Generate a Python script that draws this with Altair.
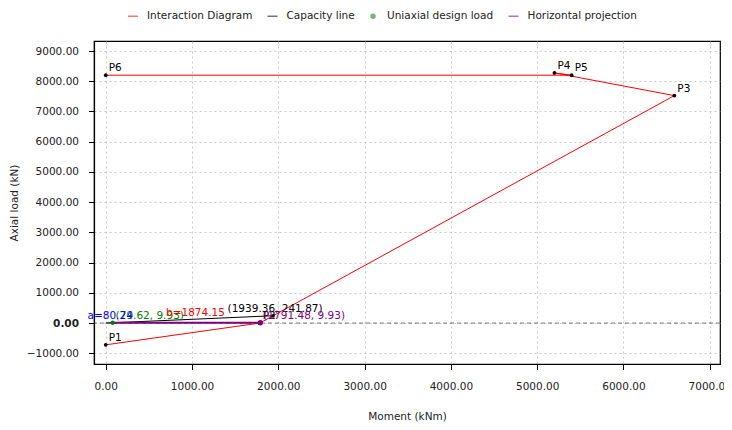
import altair as alt
import pandas as pd

# ---- data ----
series_names = ["Interaction Diagram", "Capacity line", "Uniaxial design load", "Horizontal projection"]
series_colors = ["red", "black", "green", "purple"]

p_names = ["P1", "P2", "P3", "P4", "P5", "P6"]
p_moment = [0, 1785, 6590, 5200, 5400, 0]
p_axial = [-720, 0, 7525, 8275, 8200, 8200]

cap_moment = [0, 1939.36]
cap_axial = [0, 241.87]

design_moment = [79.62]
design_axial = [9.93]

proj_moment = [79.62, 1791.48]
proj_axial = [9.93, 9.93]

a_value = 80.24
b_value = 1874.15

x_ticks = [0, 1000, 2000, 3000, 4000, 5000, 6000, 7000]
y_ticks = [-1000, 0, 1000, 2000, 3000, 4000, 5000, 6000, 7000, 8000, 9000]

FONT = "DejaVu Sans"

# ---- tables ----
inter_df = pd.DataFrame({"m": p_moment, "n": p_axial, "name": p_names,
                         "series": series_names[0], "o": list(range(len(p_names)))})
cap_df = pd.DataFrame({"m": cap_moment, "n": cap_axial, "series": series_names[1], "o": [0, 1]})
design_df = pd.DataFrame({"m": design_moment, "n": design_axial, "series": series_names[2],
                          "lab": [f"({design_moment[0]:.2f}, {design_axial[0]:.2f})"]})
proj_df = pd.DataFrame({"m": proj_moment, "n": proj_axial, "series": series_names[3], "o": [0, 1]})
proj_end_df = pd.DataFrame({"m": [proj_moment[1]], "n": [proj_axial[1]],
                            "lab": [f"({proj_moment[1]:.2f}, {proj_axial[1]:.2f})"]})
cap_end_df = pd.DataFrame({"m": [cap_moment[1]], "n": [cap_axial[1]],
                           "lab": [f"({cap_moment[1]:.2f}, {cap_axial[1]:.2f})"]})
a_df = pd.DataFrame({"m": [design_moment[0] / 2], "n": [0.0], "lab": [f"a={a_value:.2f}"]})
b_df = pd.DataFrame({"m": [(design_moment[0] + cap_moment[1]) / 2 + 30],
                     "n": [0.0], "lab": [f"b={b_value:.2f}"]})
zero_df = pd.DataFrame({"n": [0]})

xscale = alt.Scale(domain=[-136, 7119], nice=False, zero=False)
yscale = alt.Scale(domain=[-1354, 9331], nice=False, zero=False)

xenc = alt.X("m:Q", scale=xscale, title="Moment (kNm)",
             axis=alt.Axis(values=x_ticks, format=".2f", titlePadding=19, labelOverlap=False))
yaxis = alt.Axis(values=y_ticks, format=".2f", labelOverlap=False,
                 titleX=-80, titleY=161.5, titleAngle=270, titleBaseline="middle",
                 titleAlign="center",
                 labelFontWeight={"condition": {"test": "datum.value == 0", "value": "bold"},
                                  "value": "normal"})
yenc = alt.Y("n:Q", scale=yscale, title="Axial load (kN)", axis=yaxis)

color_scale = alt.Scale(domain=series_names, range=series_colors)
dot_path = "M -0.4 0 A 0.4 0.4 0 1 1 0.4 0 A 0.4 0.4 0 1 1 -0.4 0 Z"
shape_scale = alt.Scale(domain=series_names, range=["stroke", "stroke", dot_path, "stroke"])

legend = alt.Legend(
    title=None, orient="none", direction="horizontal", legendX=33, legendY=-31,
    symbolSize=100, symbolStrokeWidth=1.5, symbolOpacity=0.55,
    labelFont=FONT, labelFontSize=10.5, labelColor="#222", labelOffset=8,
    columnPadding=11.5, padding=0,
)
color_enc = alt.Color("series:N", scale=color_scale, legend=legend)
shape_enc = alt.Shape("series:N", scale=shape_scale, legend=legend)

zero_line = alt.Chart(zero_df).mark_rule(color="#555", strokeWidth=0.8, strokeDash=[4, 3]).encode(
    y=yenc)

inter_line = alt.Chart(inter_df).mark_line(strokeWidth=1).encode(
    x=xenc, y=yenc, order="o:Q", color=color_enc)
cap_line = alt.Chart(cap_df).mark_line(strokeWidth=1).encode(
    x=xenc, y=yenc, order="o:Q", color=color_enc)
proj_line = alt.Chart(proj_df).mark_line(strokeWidth=1.8).encode(
    x=xenc, y=yenc, order="o:Q", color=color_enc)

p_dots = alt.Chart(inter_df).mark_circle(color="black", size=14, opacity=1).encode(x=xenc, y=yenc)
p_text = alt.Chart(inter_df).mark_text(align="left", baseline="middle", dx=3, dy=-7,
                                       font=FONT, fontSize=10.5, color="black").encode(
    x=xenc, y=yenc, text="name:N")

cap_dot = alt.Chart(cap_end_df).mark_circle(color="black", size=14, opacity=1).encode(x=xenc, y=yenc)
cap_text = alt.Chart(cap_end_df).mark_text(align="center", baseline="middle", dx=2, dy=-7,
                                           font=FONT, fontSize=10.5, color="black").encode(
    x=xenc, y=yenc, text="lab:N")

design_dot = alt.Chart(design_df).mark_point(filled=True, size=120, opacity=1).encode(
    x=xenc, y=yenc, color=color_enc, shape=shape_enc)
design_text = alt.Chart(design_df).mark_text(align="left", baseline="middle", dx=3, dy=-7,
                                             font=FONT, fontSize=10.5, color="green").encode(
    x=xenc, y=yenc, text="lab:N")

proj_dot = alt.Chart(proj_end_df).mark_circle(color="purple", size=28, opacity=1).encode(x=xenc, y=yenc)
proj_text = alt.Chart(proj_end_df).mark_text(align="left", baseline="middle", dx=3, dy=-7,
                                             font=FONT, fontSize=10.5, color="purple").encode(
    x=xenc, y=yenc, text="lab:N")

a_text = alt.Chart(a_df).mark_text(align="center", baseline="middle", dx=1, dy=-7,
                                   font=FONT, fontSize=10.5, color="blue").encode(
    x=xenc, y=yenc, text="lab:N")
b_text = alt.Chart(b_df).mark_text(align="center", baseline="middle", dy=-10,
                                   font=FONT, fontSize=10.5, color="red").encode(
    x=xenc, y=yenc, text="lab:N")

chart = alt.layer(
    zero_line, inter_line, cap_line, proj_line,
    p_dots, cap_dot, design_dot, proj_dot,
    p_text, cap_text, design_text, proj_text, a_text, b_text,
).properties(
    width=626, height=323,
    autosize=alt.AutoSizeParams(type="none"),
    padding={"left": 86, "top": 33, "right": 4, "bottom": 58},
).configure_view(
    stroke="black", strokeWidth=1.2
).configure_axis(
    labelFont=FONT, labelFontSize=10.5, labelColor="#222", labelOverlap=False,
    titleFont=FONT, titleFontSize=10.5, titleFontWeight="normal", titleColor="#222",
    domainColor="black", domainWidth=1.2, tickColor="black", tickSize=5.5, tickWidth=1,
    labelPadding=10, grid=True, gridColor="#bbbbbb", gridDash=[2, 3], gridWidth=0.8,
).configure_axisX(labelPadding=12)

chart.save("out.html", embed_options={"renderer": "svg", "actions": False})
